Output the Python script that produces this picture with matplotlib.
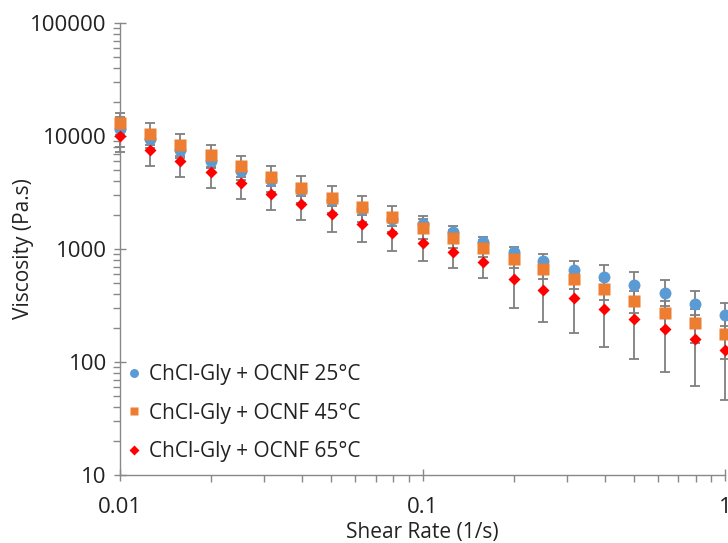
import matplotlib
matplotlib.use("Agg")
import matplotlib.pyplot as plt
from matplotlib.ticker import LogLocator, NullFormatter, FixedLocator, FixedFormatter

plt.rcParams['font.family'] = ['Open Sans', 'DejaVu Sans']

shear_rate = [0.01, 0.0126, 0.0158, 0.02, 0.0251, 0.0316, 0.0398, 0.0501, 0.0631, 0.0794,
              0.1, 0.126, 0.158, 0.2, 0.251, 0.316, 0.398, 0.501, 0.631, 0.794, 1.0]

visc_25 = [11460, 9350, 7520, 6045, 4930, 4080, 3330, 2715, 2260, 1843,
           1665, 1406, 1142, 935, 787, 651, 562, 483, 408, 328, 258]
err_25 = [3400, 1100, 900, 750, 600, 450, 380, 300, 250, 260,
          282, 182, 130, 112, 116, 136, 155, 143, 120, 97, 72]

visc_45 = [13110, 10420, 8370, 6750, 5390, 4340, 3487, 2845, 2330, 1908,
           1525, 1244, 1027, 816, 665, 543, 447, 349, 272, 220, 178]
err_45 = [2970, 2530, 1980, 1570, 1300, 1120, 913, 745, 596, 480,
          300, 230, 180, 140, 120, 100, 90, 80, 75, 72, 72]

visc_65 = [10000, 7520, 5970, 4800, 3840, 3085, 2518, 2028, 1654, 1377,
           1123, 935, 762, 543, 434, 366, 294, 240, 196, 160, 127]
err_65 = [2825, 2060, 1660, 1355, 1070, 857, 723, 614, 500, 422,
          340, 260, 211, 244, 206, 186, 157, 134, 115, 99, 81]

labels = ['ChCl-Gly + OCNF 25°C', 'ChCl-Gly + OCNF 45°C', 'ChCl-Gly + OCNF 65°C']

fig = plt.figure(figsize=(7.28, 5.43), dpi=100)
ax = fig.add_axes([120/728, 68/543, 605/728, 452/543])
ax.set_xscale('log')
ax.set_yscale('log')
ax.set_xlim(0.01, 1)
ax.set_ylim(10, 100000)

grey = '#7f7f7f'
for v, e in [(visc_25, err_25), (visc_45, err_45), (visc_65, err_65)]:
    ax.errorbar(shear_rate, v, yerr=e, fmt='none', ecolor=grey, elinewidth=1.3,
                capsize=3.8, capthick=1.3, zorder=2, clip_on=False)

ax.plot(shear_rate, visc_25, 'o', color='#5B9BD5', ms=8.6, mec='none', zorder=3,
        clip_on=False, label=labels[0])
ax.plot(shear_rate, visc_45, 's', color='#ED7D31', ms=8.4, mec='none', zorder=4,
        clip_on=False, label=labels[1])
ax.plot(shear_rate, visc_65, 'D', color='#FF0000', ms=6.6, mec='none', zorder=5,
        clip_on=False, label=labels[2])

for s in ['top', 'right']:
    ax.spines[s].set_visible(False)
for s in ['left', 'bottom']:
    ax.spines[s].set_color('#888888')
    ax.spines[s].set_linewidth(1.0)

ax.yaxis.set_major_locator(FixedLocator([10, 100, 1000, 10000, 100000]))
ax.yaxis.set_major_formatter(FixedFormatter(['10', '100', '1000', '10000', '100000']))
ax.xaxis.set_major_locator(FixedLocator([0.01, 0.1, 1]))
ax.xaxis.set_major_formatter(FixedFormatter(['0.01', '0.1', '1']))
ax.yaxis.set_minor_locator(LogLocator(base=10, subs=range(2, 10), numticks=20))
ax.xaxis.set_minor_locator(LogLocator(base=10, subs=range(2, 10), numticks=20))
ax.yaxis.set_minor_formatter(NullFormatter())
ax.xaxis.set_minor_formatter(NullFormatter())
ax.tick_params(which='major', direction='inout', length=9, width=1, color='#888888',
               labelsize=16, labelcolor='#222222')
ax.tick_params(axis='y', which='major', pad=5)
ax.tick_params(axis='x', which='major', pad=11)
ax.tick_params(which='minor', direction='out', length=5, width=1, color='#888888')

ax.set_xlabel('Shear Rate (1/s)', fontsize=15, color='#222222', labelpad=3)
ax.set_ylabel('Viscosity (Pa.s)', fontsize=15, color='#222222', labelpad=-3)

ax.legend(loc='lower left', bbox_to_anchor=(-0.012, 0.0), frameon=False, fontsize=15,
          markerscale=0.75, handlelength=0.8, handletextpad=0.35, labelspacing=0.85,
          borderaxespad=0.2, labelcolor='#222222')

fig.savefig('out.png', dpi=100)
